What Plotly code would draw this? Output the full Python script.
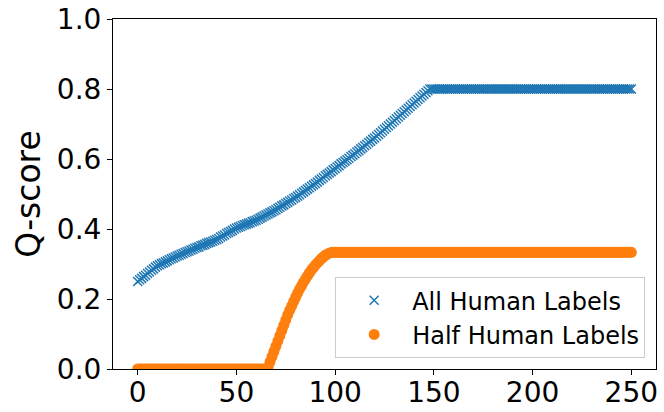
import plotly.graph_objects as go

# ---- data ----
steps = list(range(0, 251))

all_human_rise = [
    0.250, 0.255, 0.259, 0.264, 0.268, 0.273, 0.277, 0.282, 0.286, 0.291,
    0.295, 0.298, 0.301, 0.303, 0.306, 0.309, 0.312, 0.315, 0.317, 0.320,
    0.323, 0.325, 0.328, 0.330, 0.333, 0.335, 0.337, 0.340, 0.342, 0.345,
    0.347, 0.349, 0.352, 0.354, 0.356, 0.359, 0.361, 0.363, 0.365, 0.368,
    0.370, 0.373, 0.377, 0.380, 0.383, 0.387, 0.390, 0.393, 0.396, 0.400,
    0.403, 0.405, 0.407, 0.410, 0.412, 0.414, 0.416, 0.418, 0.421, 0.423,
    0.425, 0.428, 0.431, 0.434, 0.437, 0.440, 0.443, 0.446, 0.449, 0.452,
    0.455, 0.459, 0.462, 0.466, 0.469, 0.473, 0.476, 0.480, 0.483, 0.487,
    0.490, 0.494, 0.498, 0.502, 0.506, 0.510, 0.514, 0.518, 0.522, 0.526,
    0.530, 0.534, 0.539, 0.543, 0.547, 0.552, 0.556, 0.560, 0.564, 0.569,
    0.573, 0.577, 0.581, 0.586, 0.590, 0.594, 0.598, 0.602, 0.607, 0.611,
    0.615, 0.620, 0.624, 0.629, 0.633, 0.638, 0.642, 0.647, 0.651, 0.656,
    0.660, 0.665, 0.670, 0.675, 0.680, 0.685, 0.690, 0.695, 0.700, 0.705,
    0.710, 0.715, 0.720, 0.725, 0.730, 0.735, 0.740, 0.745, 0.750, 0.755,
    0.760, 0.765, 0.770, 0.775, 0.780, 0.785, 0.790, 0.795, 0.800,
]
all_human_plateau = [0.8] * 102
all_human = all_human_rise + all_human_plateau

half_human_start = [0.0] * 66
half_human_rise = [
    0.005, 0.020, 0.035, 0.050, 0.065, 0.080, 0.095, 0.110, 0.125, 0.140,
    0.155, 0.168, 0.180, 0.193, 0.205, 0.217, 0.228, 0.238, 0.248, 0.257,
    0.266, 0.275, 0.283, 0.290, 0.297, 0.303, 0.309, 0.315, 0.320, 0.325,
    0.328, 0.331, 0.333,
]
half_human_plateau = [0.3333] * 152
half_human = half_human_start + half_human_rise + half_human_plateau

series_names = ["All Human Labels", "Half Human Labels"]
x_ticks = [0, 50, 100, 150, 200, 250]
y_ticks = [0.0, 0.2, 0.4, 0.6, 0.8, 1.0]
y_title = "Q-score"

FONT = "DejaVu Sans"

fig = go.Figure()
fig.add_trace(go.Scatter(
    x=steps, y=all_human, mode="markers", name=series_names[0],
    marker=dict(symbol="x-thin", size=9, color="#1f77b4",
                line=dict(width=1.5, color="#1f77b4")),
))
fig.add_trace(go.Scatter(
    x=steps, y=half_human, mode="markers", name=series_names[1],
    marker=dict(symbol="circle", size=11, color="#ff7f0e",
                line=dict(width=0)),
))

axis_common = dict(
    showline=True, mirror=True, linecolor="black", linewidth=1,
    ticks="outside", ticklen=5, tickwidth=1, tickcolor="black",
    showgrid=False, zeroline=False, automargin=False,
    ticklabeloverflow="allow",
    tickfont=dict(family=FONT, size=28, color="black"),
)

fig.update_layout(
    width=664, height=412,
    margin=dict(l=113, r=8, t=19, b=43),
    paper_bgcolor="white", plot_bgcolor="white",
    font=dict(family=FONT, color="black"),
    xaxis=dict(range=[-12.5, 262.5], tickvals=x_ticks, ticklabelstandoff=-7,
               **axis_common),
    yaxis=dict(range=[0, 1], tickvals=y_ticks, tickformat=".1f",
               title=dict(text=y_title, font=dict(family=FONT, size=33, color="black"),
                          standoff=6),
               **axis_common),
    legend=dict(
        x=0.98, y=0.031, xanchor="right", yanchor="bottom",
        bgcolor="rgba(255,255,255,0.8)", bordercolor="#cccccc", borderwidth=1,
        font=dict(family=FONT, size=24, color="black"),
        itemwidth=66,
    ),
    showlegend=True,
)

# remove the browser's default 8px page margin so the figure fills the window
fig.write_html("out.html", config={"displayModeBar": False},
               post_script="document.body.style.margin='0';")
